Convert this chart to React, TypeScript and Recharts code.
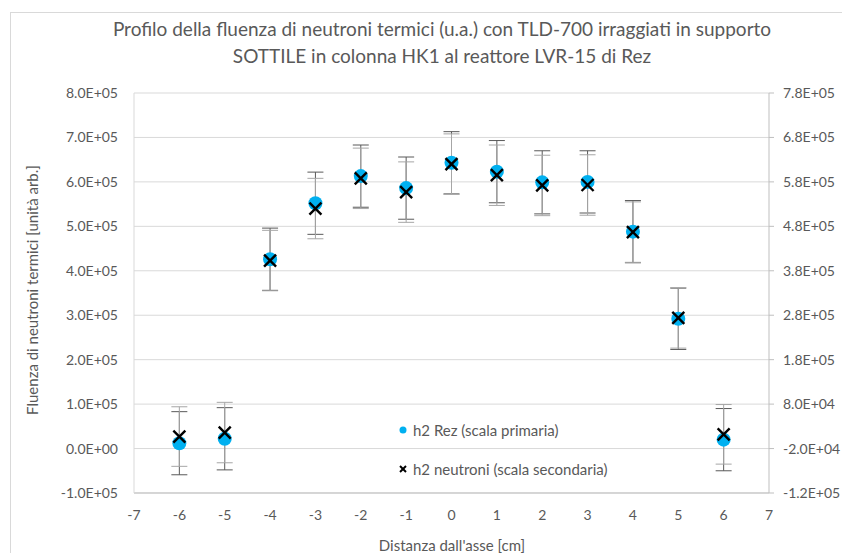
import { ScatterChart, Scatter, XAxis, YAxis, CartesianGrid, ErrorBar } from 'recharts';

document.body.style.margin = '0';

// distanza dall'asse [cm]
const positions = [-6, -5, -4, -3, -2, -1, 0, 1, 2, 3, 4, 5, 6];

// h2 Rez, scala primaria
const rezValues = [12000, 22000, 426000, 552000, 613000, 586000, 643000, 623000, 599000, 600000, 488000, 292000, 20000];
const rezErrors = [71000, 70000, 70000, 70000, 70000, 70000, 70000, 70000, 71000, 70000, 70000, 69000, 70000];

// h2 neutroni, scala secondaria
const neutroniValues = [7000, 16000, 403000, 520000, 588000, 557000, 620000, 595000, 572000, 573000, 467000, 274000, 12000];
const neutroniErrors = [67000, 68000, 68000, 68000, 68000, 68000, 68000, 68000, 68000, 68000, 68000, 68000, 67000];

const xTicks = [-7, -6, -5, -4, -3, -2, -1, 0, 1, 2, 3, 4, 5, 6, 7];
const leftTicks = [-100000, 0, 100000, 200000, 300000, 400000, 500000, 600000, 700000, 800000];
const rightTicks = [-120000, -20000, 80000, 180000, 280000, 380000, 480000, 580000, 680000, 780000];

const rezData = positions.map((x, i) => ({ x, y: rezValues[i], err: rezErrors[i] }));
const neutroniData = positions.map((x, i) => ({ x, y: neutroniValues[i], err: neutroniErrors[i] }));

const FONT = 'Lato, "Open Sans", sans-serif';
const TEXT = '#595959';

const sci = (v: number) => {
  const [m, e] = v.toExponential(1).split('e');
  const sign = e[0] === '-' ? '-' : '+';
  const digits = e.replace(/[+-]/, '').padStart(2, '0');
  return `${m}E${sign}${digits}`;
};

const Dot = (props: any) => <circle cx={props.cx} cy={props.cy} r={7} fill="#00B0F0" />;

const Cross = (props: any) => {
  const { cx, cy } = props;
  return (
    <g stroke="#000" strokeWidth={2.4}>
      <line x1={cx - 6} y1={cy - 6} x2={cx + 6} y2={cy + 6} />
      <line x1={cx - 6} y1={cy + 6} x2={cx + 6} y2={cy - 6} />
    </g>
  );
};

export default function App() {
  return (
    <div style={{ position: 'relative', width: 842, height: 553, fontFamily: FONT, background: '#fff', overflow: 'hidden' }}>
      <div style={{ position: 'absolute', left: 10, top: 12, width: 860, height: 600, border: '1px solid #d9d9d9' }} />
      <div style={{ position: 'absolute', left: 0, top: 15, width: 884, textAlign: 'center', fontSize: 19, lineHeight: '27px', color: TEXT }}>
        Profilo della fluenza di neutroni termici (u.a.) con TLD-700 irraggiati in supporto
        <br />
        SOTTILE in colonna HK1 al reattore LVR-15 di Rez
      </div>
      <div style={{ position: 'absolute', left: 0, top: 0 }}>
        <ScatterChart width={842} height={553} margin={{ top: 93, right: 0, bottom: 30, left: 0 }}>
          <CartesianGrid yAxisId="left" vertical={false} stroke="#d9d9d9" />
          <XAxis
            dataKey="x"
            type="number"
            domain={[-7, 7]}
            ticks={xTicks}
            height={30}
            tickLine={false}
            tickSize={0}
            tickMargin={17}
            axisLine={{ stroke: '#bfbfbf' }}
            tick={{ fill: TEXT, fontSize: 14, fontFamily: FONT }}
          />
          <YAxis
            yAxisId="left"
            dataKey="y"
            type="number"
            domain={[-100000, 800000]}
            ticks={leftTicks}
            width={134}
            tickFormatter={sci}
            tickLine={false}
            tickSize={0}
            tickMargin={16}
            axisLine={{ stroke: '#d9d9d9' }}
            tick={{ fill: TEXT, fontSize: 14, fontFamily: FONT }}
          />
          <YAxis
            yAxisId="right"
            orientation="right"
            dataKey="y"
            type="number"
            domain={[-120000, 780000]}
            ticks={rightTicks}
            width={73}
            tickFormatter={sci}
            tickSize={5}
            tickMargin={9}
            tickLine={{ stroke: '#bfbfbf' }}
            axisLine={{ stroke: '#bfbfbf' }}
            tick={{ fill: TEXT, fontSize: 14, fontFamily: FONT }}
          />
          <Scatter name="h2 Rez (scala primaria)" data={rezData} yAxisId="left" shape={Dot} isAnimationActive={false}>
            <ErrorBar dataKey="err" direction="y" width={8} stroke="#595959" strokeWidth={1} />
          </Scatter>
          <Scatter name="h2 neutroni (scala secondaria)" data={neutroniData} yAxisId="right" shape={Cross} isAnimationActive={false}>
            <ErrorBar dataKey="err" direction="y" width={8} stroke="#a6a6a6" strokeWidth={1} />
          </Scatter>
        </ScatterChart>
      </div>
      <div
        style={{
          position: 'absolute',
          left: 32,
          top: 290,
          transform: 'translate(-50%, -50%) rotate(-90deg)',
          whiteSpace: 'nowrap',
          fontSize: 15,
          color: TEXT,
        }}
      >
        Fluenza di neutroni termici [unità arb.]
      </div>
      <div style={{ position: 'absolute', left: 0, width: 904, top: 536, textAlign: 'center', fontSize: 15, color: TEXT }}>
        Distanza dall'asse [cm]
      </div>
      <div style={{ position: 'absolute', left: 398, top: 420, fontSize: 15, color: TEXT, lineHeight: '20px' }}>
        <div style={{ display: 'flex', alignItems: 'center' }}>
          <svg width={12} height={12} style={{ marginRight: 3 }}>
            <circle cx={5} cy={6} r={3.5} fill="#00B0F0" />
          </svg>
          h2 Rez (scala primaria)
        </div>
        <div style={{ display: 'flex', alignItems: 'center', marginTop: 19 }}>
          <svg width={12} height={12} style={{ marginRight: 3 }}>
            <g stroke="#000" strokeWidth={2}>
              <line x1={2} y1={3} x2={8} y2={9} />
              <line x1={2} y1={9} x2={8} y2={3} />
            </g>
          </svg>
          h2 neutroni (scala secondaria)
        </div>
      </div>
    </div>
  );
}
